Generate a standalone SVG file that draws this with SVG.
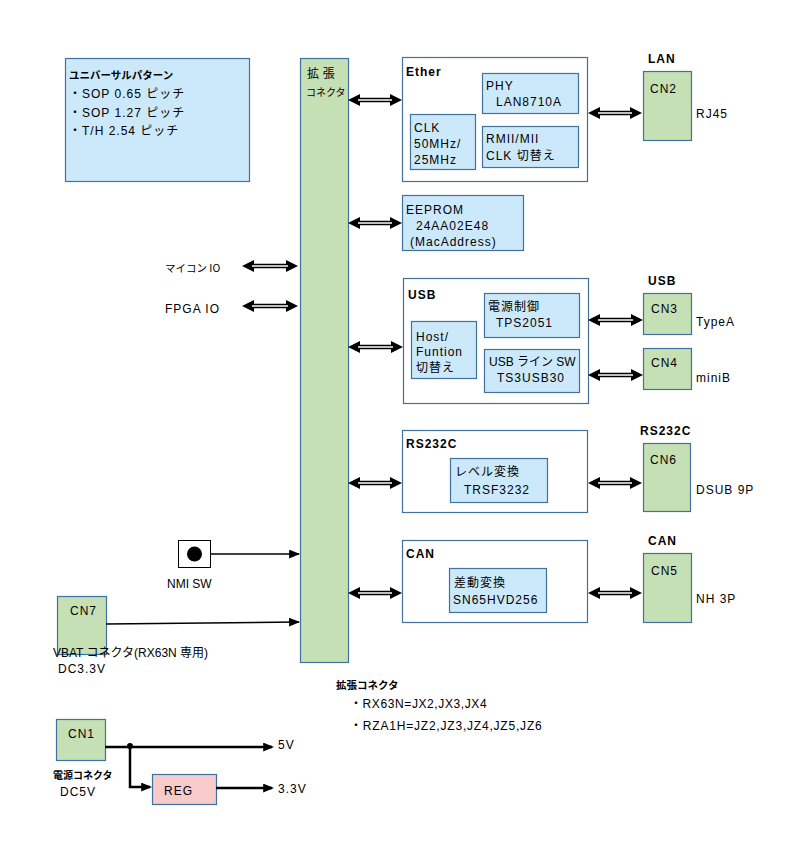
<svg xmlns="http://www.w3.org/2000/svg" width="800" height="850" viewBox="0 0 800 850">
<style>
text{font-family:"Liberation Sans","Noto Sans CJK JP",sans-serif;font-size:12px;fill:#000;letter-spacing:1px}
.b{font-weight:bold}
.j{font-family:"Noto Sans CJK JP","Liberation Sans",sans-serif;letter-spacing:0.5px}
.blue{fill:#cce9fb;stroke:#41719c;stroke-width:1.2}
.green{fill:#c5e0b4;stroke:#41719c;stroke-width:1.2}
.white{fill:#fff;stroke:#41719c;stroke-width:1.2}
.pink{fill:#f8cbcb;stroke:#41719c;stroke-width:1.2}
.dbl{stroke:#000;stroke-width:4.5;fill:none;marker-start:url(#dh);marker-end:url(#dh)}
.dbl-in{stroke:#fff;stroke-width:1.5;fill:none}
.sgl{stroke:#000;stroke-width:1.5;fill:none;marker-end:url(#sh)}
.pwr{stroke:#000;stroke-width:2.5;fill:none;marker-end:url(#ph)}
</style>
<defs>
<marker id="dh" viewBox="0 0 12 12" refX="4" refY="6" markerWidth="12" markerHeight="12" markerUnits="userSpaceOnUse" orient="auto-start-reverse"><path d="M0,0 L12,6 L0,12 z" fill="#000"/></marker>
<marker id="sh" viewBox="0 0 10 8" refX="9" refY="4" markerWidth="11" markerHeight="9" markerUnits="userSpaceOnUse" orient="auto"><path d="M0,0 L10,4 L0,8 z" fill="#000"/></marker>
<marker id="ph" viewBox="0 0 10 8" refX="8" refY="4" markerWidth="11" markerHeight="9" markerUnits="userSpaceOnUse" orient="auto"><path d="M0,0 L10,4 L0,8 z" fill="#000"/></marker>
</defs>
<rect width="800" height="850" fill="#fff"/>

<g id="universal">
<rect class="blue" x="65.5" y="58.5" width="184" height="123"/>
<text class="j b" x="69" y="79" style="font-size:10.5px;letter-spacing:0">ユニバーサルパターン</text>
<text x="69" y="98">・SOP 0.65 ピッチ</text>
<text x="69" y="117">・SOP 1.27 ピッチ</text>
<text x="69" y="135">・T/H  2.54 ピッチ</text>
</g>

<g id="expansion">
<rect class="green" x="300.5" y="58.5" width="48" height="604"/>
<text class="j" x="307" y="78">拡 張</text>
<text class="j" x="306" y="96" style="font-size:10px;letter-spacing:0">コネクタ</text>
</g>

<g id="ether">
<rect class="white" x="402.5" y="57.5" width="185" height="124"/>
<text class="b" x="406" y="76">Ether</text>
<rect class="blue" x="482.5" y="73.5" width="96" height="40"/>
<text x="486" y="90">PHY</text>
<text x="496" y="106">LAN8710A</text>
<rect class="blue" x="410.5" y="114.5" width="65" height="55"/>
<text x="414" y="132">CLK</text>
<text x="414" y="148">50MHz/</text>
<text x="414" y="164">25MHz</text>
<rect class="blue" x="482.5" y="126.5" width="96" height="41"/>
<text x="486" y="143">RMII/MII</text>
<text x="486" y="160">CLK  切替え</text>
</g>

<g id="eeprom">
<rect class="blue" x="402.5" y="195.5" width="121" height="55"/>
<text x="406" y="214">EEPROM</text>
<text x="416" y="230">24AA02E48</text>
<text x="410" y="246">(MacAddress)</text>
</g>

<g id="usb">
<rect class="white" x="403.5" y="278.5" width="185" height="125"/>
<text class="b" x="408" y="299">USB</text>
<rect class="blue" x="484.5" y="293.5" width="95" height="44"/>
<text x="488" y="311">電源制御</text>
<text x="496" y="327">TPS2051</text>
<rect class="blue" x="411.5" y="321.5" width="65" height="57"/>
<text x="416" y="341">Host/</text>
<text x="416" y="356">Funtion</text>
<text x="416" y="372">切替え</text>
<rect class="blue" x="484.5" y="349.5" width="95" height="43"/>
<text x="489" y="366" style="letter-spacing:0">USB ライン SW</text>
<text x="497" y="382">TS3USB30</text>
</g>

<g id="rs232c">
<rect class="white" x="402.5" y="430.5" width="185" height="82"/>
<text class="b" x="406" y="448">RS232C</text>
<rect class="blue" x="450.5" y="458.5" width="97" height="44"/>
<text x="455" y="476">レベル変換</text>
<text x="464" y="494">TRSF3232</text>
</g>

<g id="can">
<rect class="white" x="402.5" y="540.5" width="185" height="82"/>
<text class="b" x="406" y="558">CAN</text>
<rect class="blue" x="449.5" y="568.5" width="97" height="44"/>
<text x="454" y="587">差動変換</text>
<text x="453" y="604">SN65HVD256</text>
</g>

<g id="cn2">
<text class="b" x="648" y="63">LAN</text>
<rect class="green" x="643.5" y="71.5" width="48" height="69"/>
<text x="650" y="93">CN2</text>
<text x="696" y="118">RJ45</text>
</g>
<g id="cn3">
<text class="b" x="648" y="285">USB</text>
<rect class="green" x="643.5" y="293.5" width="48" height="41"/>
<text x="651" y="313">CN3</text>
<text x="696" y="326">TypeA</text>
</g>
<g id="cn4">
<rect class="green" x="643.5" y="348.5" width="48" height="41"/>
<text x="651" y="367">CN4</text>
<text x="696" y="382">miniB</text>
</g>
<g id="cn6">
<text class="b" x="640" y="435">RS232C</text>
<rect class="green" x="643.5" y="443.5" width="47" height="68"/>
<text x="650" y="464">CN6</text>
<text x="696" y="494">DSUB  9P</text>
</g>
<g id="cn5">
<text class="b" x="648" y="545">CAN</text>
<rect class="green" x="643.5" y="553.5" width="48" height="69"/>
<text x="651" y="575">CN5</text>
<text x="696" y="603">NH  3P</text>
</g>

<g id="io-labels">
<text class="j" x="165" y="272" style="font-size:10.5px;letter-spacing:0">マイコン IO</text>
<text x="165" y="313">FPGA IO</text>
</g>

<g id="nmi">
<rect x="178.5" y="540.5" width="32" height="27" fill="#fff" stroke="#000" stroke-width="1"/>
<circle cx="194.5" cy="554" r="7.5" fill="#000"/>
<text x="167" y="588" style="letter-spacing:0">NMI SW</text>
</g>

<g id="cn7">
<rect class="green" x="57.5" y="596.5" width="49" height="58"/>
<text x="70" y="615">CN7</text>
<text x="53" y="657" style="letter-spacing:0">VBAT コネクタ(RX63N 専用)</text>
<text x="58" y="673">DC3.3V</text>
</g>

<g id="cn1">
<rect class="green" x="56.5" y="719.5" width="49" height="41"/>
<text x="68" y="738">CN1</text>
<text class="j b" x="53" y="779" style="font-size:10px;letter-spacing:0">電源コネクタ</text>
<text x="60" y="796">DC5V</text>
</g>

<g id="reg">
<rect class="pink" x="152.5" y="774.5" width="64" height="30"/>
<text x="164" y="795">REG</text>
</g>

<g id="power-labels">
<text x="278" y="749">5V</text>
<text x="278" y="793">3.3V</text>
</g>

<g id="notes">
<text class="j b" x="336" y="689" style="font-size:10.5px;letter-spacing:0">拡張コネクタ</text>
<text x="350" y="708" style="letter-spacing:0.6px">・RX63N=JX2,JX3,JX4</text>
<text x="350" y="730" style="letter-spacing:0.8px">・RZA1H=JZ2,JZ3,JZ4,JZ5,JZ6</text>
</g>

<g id="connectors">
<path class="dbl" d="M356,100 H394"/><path class="dbl-in" d="M358,100 H392"/>
<path class="dbl" d="M596,113 H634"/><path class="dbl-in" d="M598,113 H632"/>
<path class="dbl" d="M356,223 H394"/><path class="dbl-in" d="M358,223 H392"/>
<path class="dbl" d="M250,266 H290"/><path class="dbl-in" d="M252,266 H288"/>
<path class="dbl" d="M250,306 H290"/><path class="dbl-in" d="M252,306 H288"/>
<path class="dbl" d="M356,347 H395"/><path class="dbl-in" d="M358,347 H393"/>
<path class="dbl" d="M596,320 H635"/><path class="dbl-in" d="M598,320 H633"/>
<path class="dbl" d="M596,375 H635"/><path class="dbl-in" d="M598,375 H633"/>
<path class="dbl" d="M356,483 H394"/><path class="dbl-in" d="M358,483 H392"/>
<path class="dbl" d="M596,483 H634"/><path class="dbl-in" d="M598,483 H632"/>
<path class="dbl" d="M356,593 H394"/><path class="dbl-in" d="M358,593 H392"/>
<path class="dbl" d="M596,593 H634"/><path class="dbl-in" d="M598,593 H632"/>
<path class="sgl" d="M211,554 H299"/>
<path class="sgl" d="M106,624 L299,622"/>
<path class="pwr" d="M105,747 H272"/>
<path class="pwr" d="M130,746 V787 H150"/>
<path class="pwr" d="M216,788 H272"/>
<circle cx="130" cy="746" r="3" fill="#000"/>
</g>
</svg>
